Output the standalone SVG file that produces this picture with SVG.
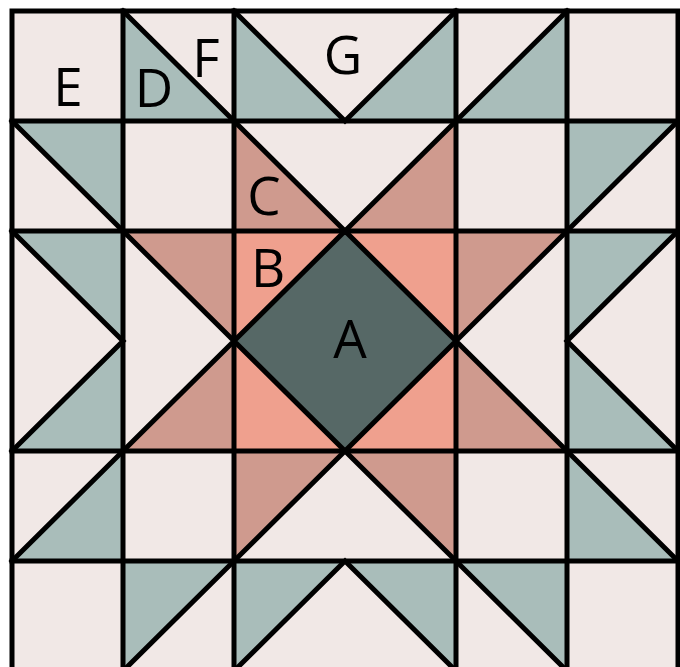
<svg xmlns="http://www.w3.org/2000/svg" width="680" height="667" viewBox="0 0 680 667">
<style>
.l{fill:#F1E8E6}
.s{fill:#A9BDBA}
.r{fill:#CF9A8E}
.p{fill:#EFA08E}
.d{fill:#566866}
.ln{fill:none;stroke:#000;stroke-width:5;stroke-linejoin:miter;stroke-linecap:square}
.t{font-family:"Open Sans","DejaVu Sans",sans-serif;font-size:53px;fill:#000;text-anchor:middle}
</style>
<rect x="0" y="0" width="680" height="667" fill="#fff"/>
<g id="background"><rect class="l" x="12" y="11" width="666" height="660"/></g>
<g id="row0">
<polygon class="s" points="123,11 123,121 234,121"/>
<polygon class="s" points="234,11 234,121 345,121"/>
<polygon class="s" points="456,11 456,121 345,121"/>
<polygon class="s" points="567,11 567,121 456,121"/>
</g>
<g id="row1">
<polygon class="s" points="12,121 123,121 123,231"/>
<polygon class="r" points="234,121 234,231 345,231"/>
<polygon class="r" points="456,121 456,231 345,231"/>
<polygon class="s" points="567,121 678,121 567,231"/>
</g>
<g id="rows23">
<polygon class="s" points="12,231 123,231 123,341"/>
<polygon class="s" points="12,451 123,451 123,341"/>
<polygon class="r" points="123,231 234,231 234,341"/>
<polygon class="r" points="123,451 234,451 234,341"/>
<rect class="p" x="234" y="231" width="222" height="220"/>
<polygon class="d" points="345,231 456,341 345,451 234,341"/>
<polygon class="r" points="456,231 567,231 456,341"/>
<polygon class="r" points="456,451 567,451 456,341"/>
<polygon class="s" points="567,231 678,231 567,341"/>
<polygon class="s" points="567,451 678,451 567,341"/>
</g>
<g id="row4">
<polygon class="s" points="123,451 123,561 12,561"/>
<polygon class="r" points="234,451 345,451 234,561"/>
<polygon class="r" points="345,451 456,451 456,561"/>
<polygon class="s" points="567,451 567,561 678,561"/>
</g>
<g id="row5">
<polygon class="s" points="123,561 234,561 123,671"/>
<polygon class="s" points="234,561 345,561 234,671"/>
<polygon class="s" points="345,561 456,561 456,671"/>
<polygon class="s" points="456,561 567,561 567,671"/>
</g>
<g id="connectors">
<rect class="ln" x="12" y="11" width="666" height="660"/>
<path class="ln" d="M123,11V671M234,11V671M456,11V671M567,11V671M12,121H678M12,231H678M12,451H678M12,561H678"/>
<path class="ln" d="M123,11L234,121M234,11L345,121L456,11M456,121L567,11"/>
<path class="ln" d="M12,121L123,231M234,121L345,231L456,121M567,231L678,121"/>
<path class="ln" d="M12,231L123,341L12,451M123,231L234,341L123,451M345,231L456,341L345,451L234,341ZM567,231L456,341L567,451M678,231L567,341L678,451"/>
<path class="ln" d="M12,561L123,451M234,561L345,451L456,561M567,451L678,561"/>
<path class="ln" d="M234,561L123,671M234,671L345,561L456,671M456,561L567,671"/>
</g>
<g id="labels">
<text class="t" x="68" y="106">E</text>
<text class="t" x="154" y="107">D</text>
<text class="t" x="206" y="77">F</text>
<text class="t" x="343" y="74">G</text>
<text class="t" x="264" y="215">C</text>
<text class="t" x="268" y="287">B</text>
<text class="t" x="350" y="358">A</text>
</g>
</svg>
